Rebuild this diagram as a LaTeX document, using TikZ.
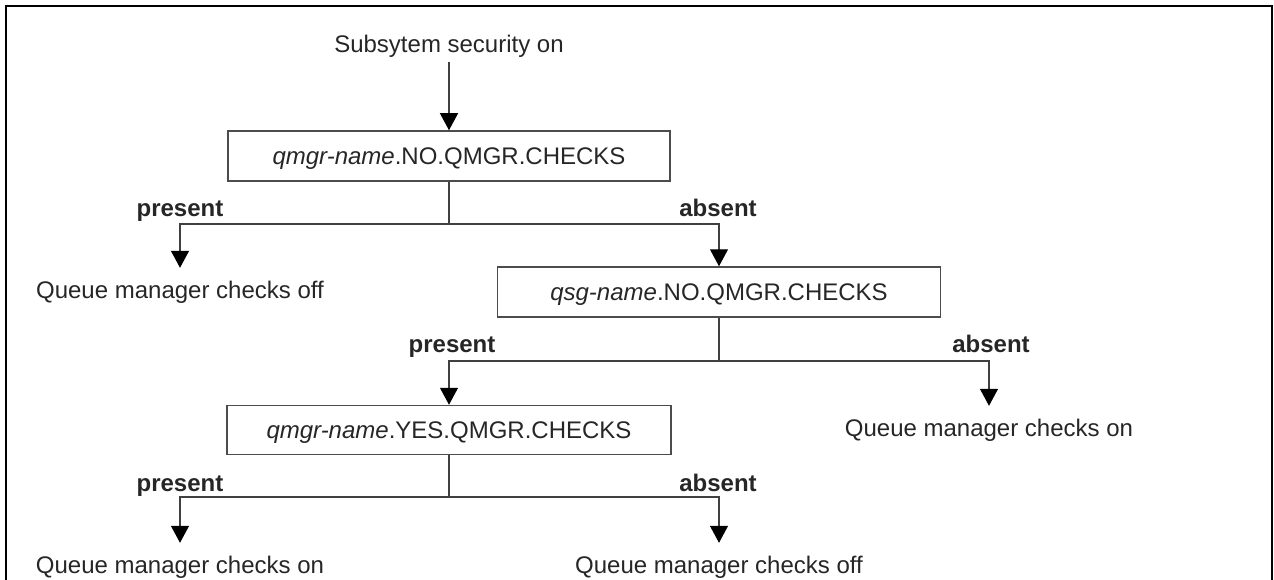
\documentclass[tikz,border=0pt]{standalone}
\usepackage{fontspec}
\setmainfont{Liberation Sans}
\usetikzlibrary{arrows.meta}
\begin{document}
\begin{tikzpicture}[x=1pt,y=-1pt,
  every node/.style={font=\fontsize{24}{28}\selectfont, text=black!85},
  box/.style={draw=black!70, line width=1.5pt, minimum height=50pt, inner sep=0pt, text height=17pt, text depth=0pt},
  lbl/.style={font=\fontsize{24}{28}\selectfont\bfseries, inner sep=0pt, text height=17pt, text depth=5pt},
  outc/.style={inner xsep=0pt, inner ysep=13pt, text height=17pt, text depth=5pt},
  conn/.style={draw=black!75, line width=1.2pt},
  arr/.style={conn, -{Triangle[width=18pt,length=17pt,color=black]}}]
\useasboundingbox (0,0) rectangle (1274,580);
\draw[line width=2.5pt] (6,580) -- (6,6) -- (1272,6) -- (1272,580);

\node[outc, inner ysep=4pt] (t) at (449,47) {Subsytem security on};
\node[box, minimum width=442pt] (b1) at (449,156) {\textit{qmgr-name}.NO.QMGR.CHECKS};
\coordinate (j1) at (449,224);
\node[lbl] (p1) at (180,211) {present};
\node[lbl] (a1) at (718,211) {absent};
\node[outc] (o1) at (180,292) {Queue manager checks off};
\node[box, minimum width=443pt] (b2) at (719,292) {\textit{qsg-name}.NO.QMGR.CHECKS};
\coordinate (j2) at (719,361);
\node[lbl] (p2) at (452,346) {present};
\node[lbl] (a2) at (991,346) {absent};
\node[box, minimum width=444pt, minimum height=49pt] (b3) at (449,430) {\textit{qmgr-name}.YES.QMGR.CHECKS};
\node[outc] (on1) at (989,430) {Queue manager checks on};
\coordinate (j3) at (449,497);
\node[lbl] (p3) at (180,485) {present};
\node[lbl] (a3) at (718,485) {absent};
\node[outc] (o2) at (180,567) {Queue manager checks on};
\node[outc] (o3) at (719,567) {Queue manager checks off};

\draw[arr] (t.south) -- (b1.north);
\draw[conn] (b1.south) -- (j1);
\draw[arr] (j1) -| (o1.north);
\draw[arr] (j1) -| (b2.north);
\draw[conn] (b2.south) -- (j2);
\draw[arr] (j2) -| (b3.north);
\draw[arr] (j2) -| (on1.north);
\draw[conn] (b3.south) -- (j3);
\draw[arr] (j3) -| (o2.north);
\draw[arr] (j3) -| (o3.north);
\end{tikzpicture}
\end{document}
